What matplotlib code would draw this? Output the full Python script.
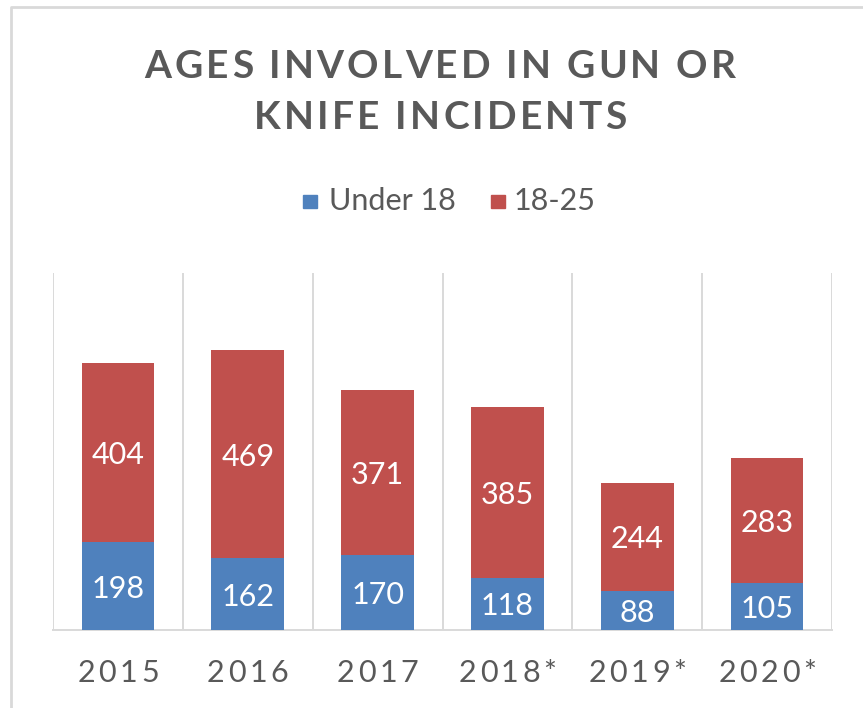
import numpy as np
import matplotlib
matplotlib.use("Agg")
import matplotlib.pyplot as plt
from matplotlib.font_manager import FontProperties, findfont
from matplotlib.ft2font import FT2Font
from matplotlib.lines import Line2D
from matplotlib.patches import Rectangle

years = ["2015", "2016", "2017", "2018*", "2019*", "2020*"]
under_18 = [198, 162, 170, 118, 88, 105]
age_18_25 = [404, 469, 371, 385, 244, 283]
series_names = ["Under 18", "18-25"]
title_lines = ["AGES INVOLVED IN GUN OR", "KNIFE INCIDENTS"]

BLUE = "#4f81bd"
RED = "#c0504d"
GRID = "#d9d9d9"
TEXT = "#595959"

W, H, DPI = 863, 708, 100
fig = plt.figure(figsize=(W / DPI, H / DPI), dpi=DPI)


def fx(px):
    return px / W


def fy(py):
    return 1 - py / H


def advances(s, prop):
    # horizontal advance of every character, in pixels
    font = FT2Font(findfont(prop))
    font.set_size(prop.get_size_in_points(), DPI)
    out = []
    for ch in s:
        g = font.load_char(ord(ch))
        out.append(g.linearHoriAdvance / 65536)
    return out


def spaced_text(s, xc, yb, prop, tracking, color):
    # draw text one glyph at a time so letters can be spread out
    adv = advances(s, prop)
    total = sum(adv) + tracking * (len(s) - 1)
    x = xc - total / 2
    for ch, a in zip(s, adv):
        fig.text(fx(x), fy(yb), ch, fontproperties=prop, color=color,
                 ha="left", va="baseline")
        x += a + tracking


ax = fig.add_axes([fx(53), fy(630), fx(832) - fx(53), fy(273) - fy(630)])
x = np.arange(len(years))
b1 = ax.bar(x, under_18, width=0.56, color=BLUE, zorder=3)
b2 = ax.bar(x, age_18_25, width=0.56, bottom=under_18, color=RED, zorder=3)

ax.set_xlim(-0.5, len(years) - 0.5)
ax.set_ylim(0, 805)
ax.set_xticks(np.arange(-0.5, len(years)), minor=True)
ax.set_xticks([])
ax.set_yticks([])
ax.grid(which="minor", axis="x", color=GRID, linewidth=1.4, zorder=0)
ax.tick_params(which="both", length=0)
for side in ["top", "left", "right"]:
    ax.spines[side].set_visible(False)
ax.spines["bottom"].set_color(GRID)
ax.spines["bottom"].set_linewidth(1.4)

lab = FontProperties(family="Lato", size=22)
for i in range(len(years)):
    ax.text(x[i], under_18[i] / 2, str(under_18[i]), fontproperties=lab,
            color="white", ha="center", va="center_baseline", zorder=4)
    ax.text(x[i], under_18[i] + age_18_25[i] / 2, str(age_18_25[i]),
            fontproperties=lab, color="white", ha="center",
            va="center_baseline", zorder=4)

# category labels
tick_prop = FontProperties(family="Lato", size=22)
for i, yr in enumerate(years):
    xc = 53 + (i + 0.5) * (832 - 53) / len(years)
    spaced_text(yr, xc, 682, tick_prop, 3.5, TEXT)

# title
title_prop = FontProperties(family="Lato", weight="bold", size=28)
spaced_text(title_lines[0], 440, 78, title_prop, 3.2, TEXT)
spaced_text(title_lines[1], 440, 129, title_prop, 3.2, TEXT)

# legend
leg_prop = FontProperties(family="Lato", size=22)
fig.patches.append(Rectangle((fx(303), fy(208)), fx(14), fy(195) - fy(208),
                             transform=fig.transFigure, color=BLUE, figure=fig))
fig.text(fx(329), fy(210), series_names[0], fontproperties=leg_prop,
         color=TEXT, ha="left", va="baseline")
fig.patches.append(Rectangle((fx(491), fy(208)), fx(14), fy(195) - fy(208),
                             transform=fig.transFigure, color=RED, figure=fig))
fig.text(fx(514), fy(210), series_names[1], fontproperties=leg_prop,
         color=TEXT, ha="left", va="baseline")

# outer frame edges
fig.lines.append(Line2D([fx(11), fx(11), fx(W + 5)], [fy(H + 5), fy(7), fy(7)],
                        transform=fig.transFigure, color=GRID, linewidth=2))

fig.savefig("out.png", dpi=DPI)
